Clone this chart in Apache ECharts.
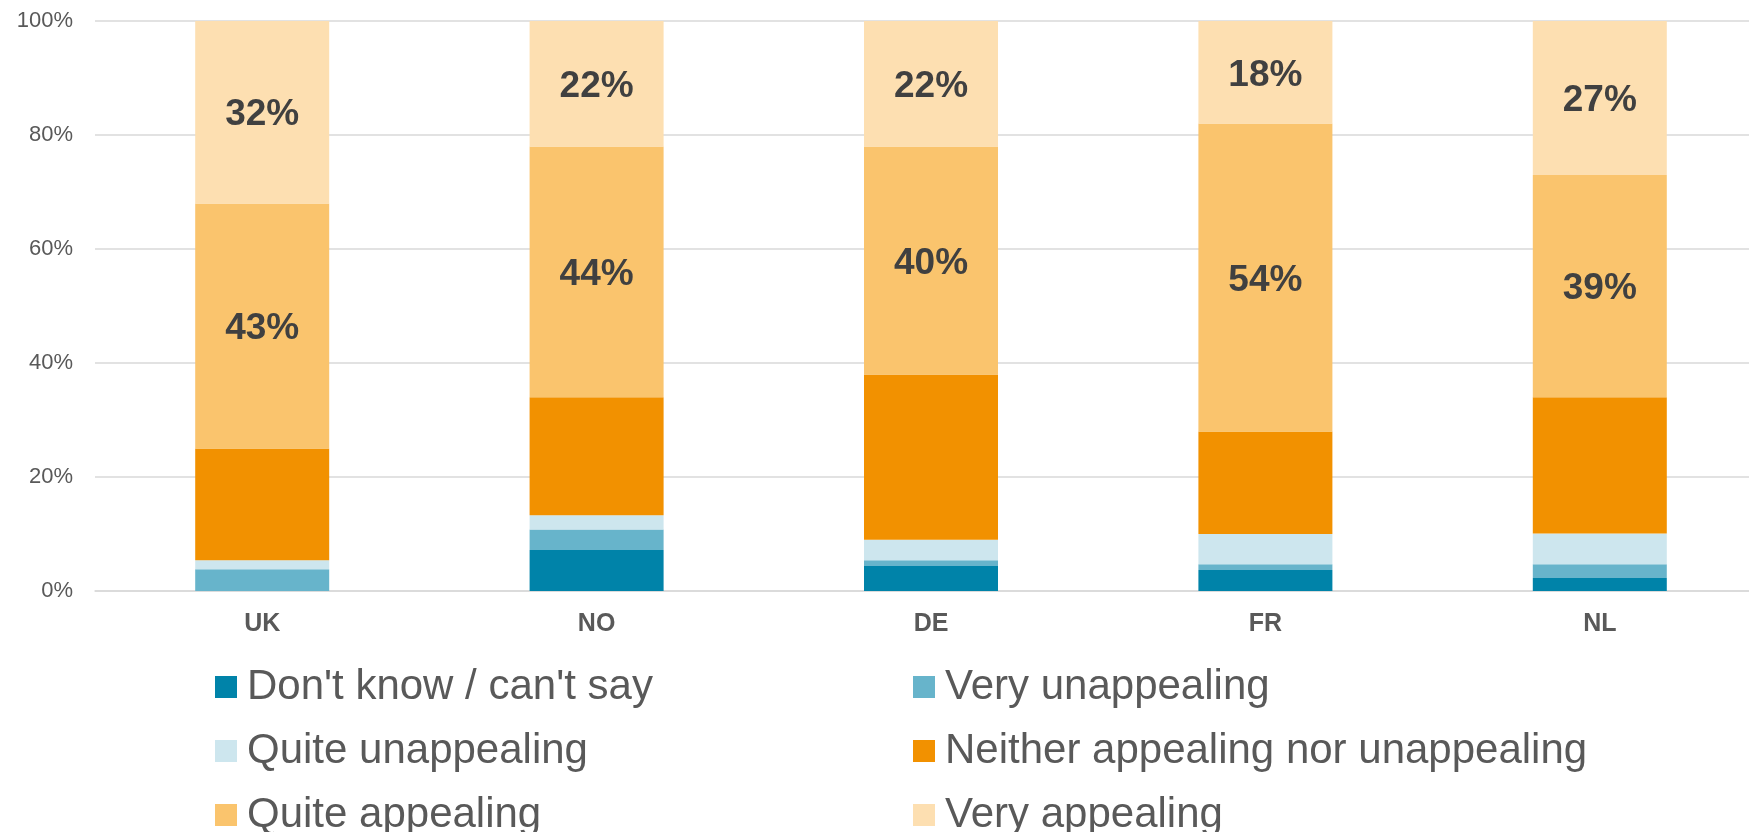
<!DOCTYPE html>
<html>
<head>
<meta charset="utf-8">
<script src="https://cdn.jsdelivr.net/npm/echarts@6/dist/echarts.min.js"></script>
<style>
  html, body { margin: 0; padding: 0; background: #ffffff; overflow: hidden; }
  /* the plot runs past the right edge of the page, so the canvas is wider than the window */
  #chart { width: 1770px; height: 832px; }
</style>
</head>
<body>
<div id="chart"></div>
<script>
// Countries along the x axis
const countries = ['UK', 'NO', 'DE', 'FR', 'NL'];

// Share of respondents per answer (percent), stacked bottom to top
const dontKnow      = [0.0, 7.2, 4.4, 3.7, 2.3];
const veryUnapp     = [3.8, 3.6, 1.0, 1.0, 2.4];
const quiteUnapp    = [1.6, 2.5, 3.6, 5.3, 5.4];
const neither       = [19.6, 20.7, 29.0, 18.0, 23.9];
const quiteAppeal   = [43, 44, 40, 54, 39];
const veryAppeal    = [32, 22, 22, 18, 27];

// Y axis tick values
const yTicks = [0, 20, 40, 60, 80, 100];

const FONT = '"Liberation Sans", Arial, sans-serif';

const seriesDefs = [
  { name: "Don't know / can't say", data: dontKnow, color: '#0083A9', label: false },
  { name: 'Very unappealing', data: veryUnapp, color: '#67B4CB', label: false },
  { name: 'Quite unappealing', data: quiteUnapp, color: '#CDE6EE', label: false },
  { name: 'Neither appealing nor unappealing', data: neither, color: '#F29100', label: false },
  { name: 'Quite appealing', data: quiteAppeal, color: '#FAC46D', label: true },
  { name: 'Very appealing', data: veryAppeal, color: '#FDDFB1', label: true }
];

const chart = echarts.init(document.getElementById('chart'), null, { renderer: 'canvas' });

// Legend: two columns of three rows, one legend component per entry
const legendCols = [210, 908];
const legendRowTop = [661, 725, 789];
const legends = seriesDefs.map((s, i) => ({
  left: legendCols[i % 2],
  top: legendRowTop[Math.floor(i / 2)],
  itemWidth: 22,
  itemHeight: 22,
  icon: 'rect',
  selectedMode: false,
  textStyle: {
    fontFamily: FONT,
    fontSize: 42,
    lineHeight: 42,
    color: '#595959',
    padding: [0, 0, 0, 5]
  },
  data: [s.name]
}));

chart.setOption({
  animation: false,
  backgroundColor: '#ffffff',
  grid: { left: 95, top: 21, width: 1672, height: 570, containLabel: false },
  legend: legends,
  xAxis: {
    type: 'category',
    data: countries,
    axisLine: { show: true, lineStyle: { color: '#D9D9D9', width: 1.5 } },
    axisTick: { show: false },
    axisLabel: {
      fontFamily: FONT,
      fontSize: 25,
      fontWeight: 'bold',
      color: '#595959',
      margin: 21
    }
  },
  yAxis: {
    type: 'value',
    min: yTicks[0],
    max: yTicks[yTicks.length - 1],
    interval: yTicks[1] - yTicks[0],
    axisLine: { show: false },
    axisTick: { show: false },
    splitLine: { lineStyle: { color: '#D9D9D9', width: 1.5 } },
    axisLabel: {
      fontFamily: FONT,
      fontSize: 22,
      color: '#595959',
      margin: 22,
      padding: [3, 0, 0, 0],
      formatter: v => v + '%'
    }
  },
  series: seriesDefs.map(s => ({
    name: s.name,
    type: 'bar',
    stack: 'total',
    barWidth: 134,
    data: s.data,
    itemStyle: { color: s.color },
    label: {
      show: s.label,
      position: 'inside',
      offset: [0, 3],
      fontFamily: FONT,
      fontSize: 37,
      fontWeight: 'bold',
      color: '#404040',
      formatter: p => Math.round(p.value) + '%'
    },
    emphasis: { disabled: true }
  }))
});
</script>
</body>
</html>
